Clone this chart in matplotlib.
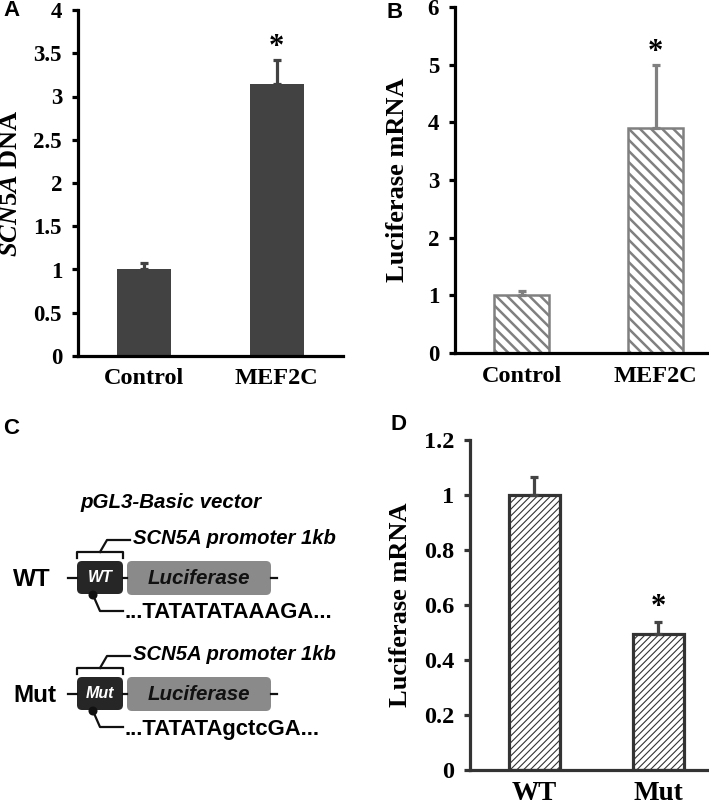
import matplotlib
matplotlib.use('Agg')
import matplotlib.pyplot as plt
import numpy as np
from matplotlib.patches import FancyBboxPatch, Circle
from matplotlib.lines import Line2D

W, H = 709, 808
plt.rcParams['font.family'] = 'Liberation Serif'
plt.rcParams['font.weight'] = 'bold'
plt.rcParams['mathtext.fontset'] = 'custom'
plt.rcParams['mathtext.it'] = 'Liberation Serif:italic:bold'
plt.rcParams['mathtext.rm'] = 'Liberation Serif:bold'
plt.rcParams['hatch.linewidth'] = 1.0

# ---------------- data ----------------
a_categories = ['Control', 'MEF2C']
a_values = [1.0, 3.15]
a_err = [0.08, 0.27]
a_yticks = [0, 0.5, 1, 1.5, 2, 2.5, 3, 3.5, 4]
a_yticklabels = ['0', '0.5', '1', '1.5', '2', '2.5', '3', '3.5', '4']
a_ylabel = r'$\mathit{SCN5A}$ DNA'

b_categories = ['Control', 'MEF2C']
b_values = [1.0, 3.9]
b_err = [0.07, 1.1]
b_yticks = [0, 1, 2, 3, 4, 5, 6]
b_yticklabels = ['0', '1', '2', '3', '4', '5', '6']
b_ylabel = 'Luciferase mRNA'

d_categories = ['WT', 'Mut']
d_values = [1.0, 0.493]
d_err = [0.066, 0.047]
d_yticks = [0, 0.2, 0.4, 0.6, 0.8, 1.0, 1.2]
d_yticklabels = ['0', '0.2', '0.4', '0.6', '0.8', '1', '1.2']
d_ylabel = 'Luciferase mRNA'

c_rows = ['WT', 'Mut']
c_sequences = ['...TATATATAAAGA...', '...TATATAgctcGA...']
c_promoter = 'SCN5A promoter 1kb'
c_vector = 'pGL3-Basic vector'
c_gene = 'Luciferase'

fig = plt.figure(figsize=(W / 100, H / 100), dpi=100)


def px_axes(l, t, r, b):
    return fig.add_axes([l / W, 1 - b / H, (r - l) / W, (b - t) / H])


def style(ax, color, ylim, xlim, yticks, ylabels, cats, tick_fs, xfs, ylabel, ylab_x, ylab_fs, xpad):
    for s in ['top', 'right']:
        ax.spines[s].set_visible(False)
    for s in ['left', 'bottom']:
        ax.spines[s].set_linewidth(2.3)
        ax.spines[s].set_color(color)
    ax.set_ylim(*ylim)
    ax.set_xlim(*xlim)
    ax.set_yticks(yticks)
    ax.set_yticklabels(ylabels, fontsize=tick_fs, fontweight='bold')
    ax.set_xticks(range(len(cats)))
    ax.set_xticklabels(cats, fontsize=xfs, fontweight='bold')
    ax.tick_params(axis='y', length=4.5, width=2.3, color=color, pad=7)
    ax.tick_params(axis='x', length=0, pad=xpad)
    ax.set_ylabel(ylabel, fontsize=ylab_fs, fontweight='bold')
    ax.yaxis.set_label_coords(ylab_x, 0.5)


def star(ax, x, y, dy_pts):
    ax.annotate('*', xy=(x, y), xytext=(0, dy_pts), textcoords='offset points',
                ha='center', va='center', fontsize=22, fontweight='bold')


# ---------------- Panel A ----------------
axA = px_axes(78, 10, 343, 356)
xa = np.arange(len(a_categories))
axA.bar(xa, a_values, width=0.41, color='#424242', zorder=2,
        yerr=[np.zeros(len(a_err)), a_err],
        error_kw=dict(ecolor='#424242', elinewidth=2.3, capsize=3, capthick=2.3))
style(axA, 'black', (0, 4), (-0.5, 1.5), a_yticks, a_yticklabels, a_categories,
      16.5, 17.5, a_ylabel, (22 - 78) / 265, 19, 9)
star(axA, 1, a_values[1] + a_err[1], 9)

# ---------------- Panel B ----------------
axB = px_axes(455, 7, 709, 353)
xb = np.arange(len(b_categories))
barsB = axB.bar(xb, b_values, width=0.41, color='white', edgecolor='#808080',
                linewidth=1.8, hatch='\\\\\\', zorder=2,
                yerr=[np.zeros(len(b_err)), b_err],
                error_kw=dict(ecolor='#808080', elinewidth=2.3, capsize=3, capthick=2.3))
for p in barsB:
    if hasattr(p, 'set_hatch_linewidth'):
        p.set_hatch_linewidth(1.8)
style(axB, 'black', (0, 6), (-0.5, 1.4), b_yticks, b_yticklabels, b_categories,
      16.5, 17.5, b_ylabel, (409 - 455) / 254, 19, 9)
star(axB, 1, b_values[1] + b_err[1], 9)

# ---------------- Panel D ----------------
axD = px_axes(470, 440, 708, 770)
xd = np.arange(len(d_categories))
barsD = axD.bar(xd, d_values, width=0.41, color='white', edgecolor='#333333',
                linewidth=2.3, hatch='/////', zorder=2,
                yerr=[np.zeros(len(d_err)), d_err],
                error_kw=dict(ecolor='#444444', elinewidth=2.3, capsize=3, capthick=2.3))
for p in barsD:
    if hasattr(p, 'set_hatch_linewidth'):
        p.set_hatch_linewidth(0.8)
style(axD, '#333333', (0, 1.2), (-0.52, 1.4), d_yticks, d_yticklabels, d_categories,
      17.5, 19.5, d_ylabel, (412 - 470) / 238, 19, 8)
star(axD, 1, d_values[1] + d_err[1], 10)

# ---------------- Panel letters ----------------
for letter, (x, y) in zip(['A', 'B', 'C', 'D'], [(3, 11), (386, 12), (3, 428), (391, 425)]):
    fig.text(x / W, 1 - y / H, letter, fontfamily='Liberation Sans', fontweight='bold',
             fontsize=16, ha='left', va='center')

# ---------------- Panel C (diagram) ----------------
axC = fig.add_axes([0, 1 - 808 / H, 350 / W, 408 / H])
axC.set_xlim(0, 350)
axC.set_ylim(808, 400)
axC.axis('off')

sans = dict(fontfamily='Liberation Sans', fontweight='bold')
axC.text(80, 503, c_vector, style='italic', fontsize=14.8, ha='left', va='center', **sans)

lw = 1.6
for i, (lab, seq) in enumerate(zip(c_rows, c_sequences)):
    yc = 578 + 116 * i
    axC.text(133, yc - 39, c_promoter, style='italic', fontsize=14.6, ha='left', va='center', **sans)
    # bracket
    axC.add_line(Line2D([77, 77, 123, 123], [yc - 20, yc - 26, yc - 26, yc - 20], color='#111111', lw=lw))
    axC.add_line(Line2D([100, 107, 130], [yc - 26, yc - 38, yc - 38], color='#111111', lw=lw))
    # backbone line pieces
    axC.add_line(Line2D([68, 77], [yc, yc], color='#111111', lw=lw))
    axC.add_line(Line2D([123, 127], [yc, yc], color='#111111', lw=lw))
    axC.add_line(Line2D([271, 277], [yc, yc], color='#111111', lw=lw))
    # promoter box
    axC.add_patch(FancyBboxPatch((77, yc - 17), 46, 33, boxstyle='round,pad=0,rounding_size=5',
                                 fc='#262626', ec='none'))
    axC.text(100, yc, lab, style='italic', fontsize=11.5, color='white', ha='center', va='center', **sans)
    # luciferase box
    axC.add_patch(FancyBboxPatch((127, yc - 17), 144, 34, boxstyle='round,pad=0,rounding_size=5',
                                 fc='#8a8a8a', ec='none'))
    axC.text(199, yc, c_gene, style='italic', fontsize=14.8, color='#111111', ha='center', va='center', **sans)
    # row label
    axC.text(13, yc + 2, lab, fontsize=17.5, ha='left', va='center', **sans)
    # dot and sequence leader
    axC.add_line(Line2D([93, 100, 123], [yc + 17, yc + 33, yc + 33], color='#111111', lw=lw))
    axC.add_patch(Circle((93, yc + 17), 4.5, fc='#111111', ec='none', zorder=3))
    axC.text(125, yc + 35, seq, fontsize=15.8, ha='left', va='center', **sans)

fig.savefig('out.png', dpi=100)
